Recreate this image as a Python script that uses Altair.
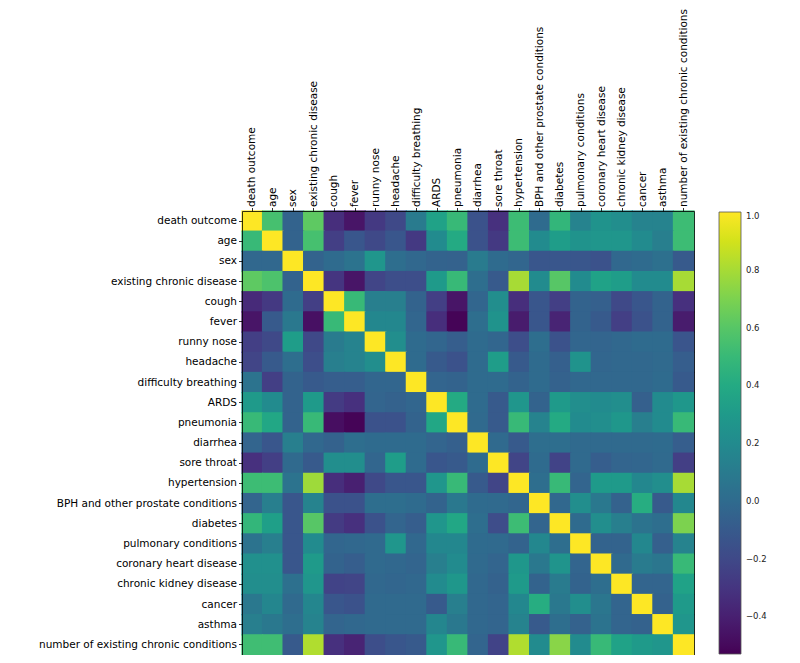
import altair as alt
import pandas as pd

labels = [
    "death outcome", "age", "sex", "existing chronic disease", "cough", "fever",
    "runny nose", "headache", "difficulty breathing", "ARDS", "pneumonia",
    "diarrhea", "sore throat", "hypertension", "BPH and other prostate conditions",
    "diabetes", "pulmonary conditions", "coronary heart disease",
    "chronic kidney disease", "cancer", "asthma",
    "number of existing chronic conditions",
]

r_death = [1.0, 0.55, -0.05, 0.62, -0.33, -0.45, -0.28, -0.2, 0.1, 0.35, 0.5, -0.15, -0.32, 0.52, 0.0, 0.48, 0.15, 0.25, 0.22, 0.15, 0.15, 0.52]
r_age = [0.5, 1.0, -0.05, 0.55, -0.25, -0.12, -0.2, -0.12, -0.28, 0.2, 0.4, -0.15, -0.28, 0.52, 0.2, 0.32, 0.25, 0.27, 0.27, 0.2, 0.12, 0.52]
r_sex = [-0.02, -0.02, 1.0, -0.05, 0.0, 0.05, 0.27, 0.02, -0.02, -0.05, -0.06, 0.1, 0.0, -0.03, -0.12, -0.12, -0.12, -0.15, -0.02, 0.0, 0.03, -0.1]
r_existing = [0.62, 0.57, -0.05, 1.0, -0.3, -0.45, -0.22, -0.17, -0.17, 0.3, 0.5, 0.02, -0.1, 0.8, 0.2, 0.6, 0.2, 0.35, 0.32, 0.2, 0.2, 0.8]
r_cough = [-0.35, -0.28, 0.0, -0.25, 1.0, 0.5, 0.12, 0.12, -0.05, -0.25, -0.45, -0.03, 0.22, -0.33, -0.12, -0.25, -0.05, -0.07, -0.2, -0.12, -0.05, -0.32]
r_fever = [-0.45, -0.1, 0.08, -0.47, 0.5, 1.0, 0.18, 0.18, -0.03, -0.33, -0.52, 0.02, 0.25, -0.42, -0.12, -0.38, -0.05, -0.1, -0.25, -0.15, -0.05, -0.42]
r_runny = [-0.25, -0.2, 0.32, -0.2, 0.1, 0.15, 1.0, 0.22, 0.0, -0.03, -0.08, 0.0, -0.03, -0.17, 0.02, -0.15, -0.03, -0.04, -0.02, 0.0, 0.0, -0.13]
r_headache = [-0.22, -0.1, 0.02, -0.17, 0.12, 0.15, 0.22, 1.0, 0.0, -0.1, -0.15, 0.0, 0.32, -0.1, 0.0, -0.07, 0.25, -0.03, -0.02, -0.02, -0.01, -0.08]
r_difficulty = [0.05, -0.25, -0.05, -0.1, -0.08, -0.08, -0.03, -0.03, 1.0, -0.04, -0.05, 0.0, 0.0, -0.05, 0.0, -0.06, -0.02, -0.02, -0.02, -0.02, 0.0, -0.1]
r_ards = [0.3, 0.2, -0.05, 0.3, -0.27, -0.32, -0.04, -0.06, -0.03, 1.0, 0.4, 0.0, -0.1, 0.27, -0.05, 0.3, 0.22, 0.2, 0.22, -0.07, 0.2, 0.28]
r_pneumonia = [0.5, 0.38, -0.05, 0.5, -0.48, -0.52, -0.15, -0.15, -0.05, 0.38, 1.0, -0.01, -0.1, 0.5, 0.15, 0.4, 0.2, 0.22, 0.28, 0.12, 0.2, 0.5]
r_diarrhea = [-0.04, -0.12, 0.12, -0.02, -0.06, 0.02, 0.0, 0.0, 0.0, -0.04, -0.07, 1.0, -0.01, -0.1, 0.02, 0.02, -0.01, -0.01, -0.01, -0.01, 0.0, -0.08]
r_sore = [-0.32, -0.25, -0.01, -0.1, 0.22, 0.22, -0.03, 0.32, 0.0, -0.12, -0.1, 0.0, 1.0, -0.22, 0.0, -0.23, -0.01, -0.08, -0.04, -0.03, -0.01, -0.25]
r_hypertension = [0.52, 0.52, 0.05, 0.78, -0.33, -0.4, -0.2, -0.12, -0.12, 0.27, 0.5, -0.1, -0.22, 1.0, 0.02, 0.5, -0.04, 0.3, 0.3, 0.18, 0.22, 0.8]
r_bph = [-0.04, 0.12, -0.12, 0.15, -0.15, -0.15, 0.02, 0.02, 0.0, -0.05, 0.08, 0.0, -0.01, -0.03, 1.0, -0.02, 0.22, 0.08, -0.06, 0.42, -0.1, 0.18]
r_diabetes = [0.48, 0.33, -0.12, 0.6, -0.27, -0.32, -0.15, -0.04, -0.08, 0.27, 0.38, 0.02, -0.18, 0.52, -0.04, 1.0, 0.0, 0.22, 0.12, 0.05, 0.02, 0.7]
r_pulmonary = [0.05, 0.12, -0.12, 0.2, -0.03, -0.02, -0.01, 0.27, -0.02, 0.18, 0.18, 0.0, -0.01, -0.05, 0.18, 0.02, 1.0, -0.05, -0.05, 0.18, -0.07, 0.15]
r_coronary = [0.23, 0.23, -0.12, 0.3, -0.05, -0.08, -0.01, -0.02, -0.04, 0.12, 0.2, -0.01, -0.04, 0.28, 0.08, 0.26, -0.04, 1.0, -0.01, 0.1, 0.07, 0.5]
r_ckd = [0.22, 0.22, 0.03, 0.27, -0.23, -0.22, -0.02, -0.03, -0.02, 0.2, 0.28, -0.02, -0.06, 0.3, -0.05, 0.1, -0.05, 0.02, 1.0, -0.04, -0.04, 0.35]
r_cancer = [0.08, 0.17, -0.01, 0.17, -0.12, -0.15, -0.01, -0.01, -0.01, -0.1, 0.12, -0.02, -0.04, 0.18, 0.42, 0.08, 0.22, 0.07, -0.04, 1.0, -0.06, 0.3]
r_asthma = [0.12, 0.08, 0.02, 0.15, -0.04, -0.02, -0.01, -0.01, -0.01, 0.17, 0.08, -0.02, -0.04, 0.15, -0.1, 0.02, -0.06, 0.05, -0.04, -0.06, 1.0, 0.27]
r_number = [0.53, 0.53, -0.1, 0.82, -0.32, -0.38, -0.17, -0.12, -0.1, 0.27, 0.5, -0.04, -0.23, 0.82, 0.2, 0.73, 0.2, 0.5, 0.35, 0.3, 0.27, 1.0]

rows = [r_death, r_age, r_sex, r_existing, r_cough, r_fever, r_runny, r_headache,
        r_difficulty, r_ards, r_pneumonia, r_diarrhea, r_sore, r_hypertension, r_bph,
        r_diabetes, r_pulmonary, r_coronary, r_ckd, r_cancer, r_asthma, r_number]

colorbar_ticks = [-0.4, -0.2, 0.0, 0.2, 0.4, 0.6, 0.8, 1.0]

records = []
for i, rname in enumerate(labels):
    for j, cname in enumerate(labels):
        records.append({"row": rname, "col": cname, "value": rows[i][j]})
df = pd.DataFrame(records)

W, H = 452, 444
FONT = "DejaVu Sans"

axis_common = dict(
    title=None, labelFont=FONT, labelFontSize=10.5, labelColor="black",
    tickColor="black", tickSize=3.5, tickWidth=0.8,
    domainColor="black", domainWidth=0.8, labelLimit=400, zindex=1,
)

band = alt.Scale(paddingInner=0, paddingOuter=0)

heat = alt.Chart(df).mark_rect(
    width=alt.RelativeBandSize(1.06), height=alt.RelativeBandSize(1.06)
).encode(
    x=alt.X("col:N", sort=labels, scale=band,
            axis=alt.Axis(orient="top", labelAngle=-90, labelAlign="left",
                          labelBaseline="middle", labelPadding=1, **axis_common)),
    y=alt.Y("row:N", sort=labels, scale=band,
            axis=alt.Axis(orient="left", labelPadding=2, **axis_common)),
    color=alt.Color(
        "value:Q",
        scale=alt.Scale(scheme="viridis", domain=[-0.53, 1.0], nice=False),
        legend=alt.Legend(
            title=None, orient="none", legendX=477, legendY=1,
            direction="vertical", gradientLength=H - 2, gradientThickness=22,
            values=colorbar_ticks, format=".1f",
            labelExpr="replace(datum.label, '-', '\u2212')",
            labelFont=FONT, labelFontSize=8.5, labelColor="#222", labelOffset=5,
            gradientStrokeColor="#555", gradientStrokeWidth=0.8,
        ),
    ),
)

frame = alt.Chart(df).mark_rect(opacity=0).encode(
    x=alt.X("col:N", sort=labels, scale=band,
            axis=alt.Axis(orient="bottom", labels=False, ticks=False, title=None,
                          domainColor="black", domainWidth=0.8, zindex=1)),
    y=alt.Y("row:N", sort=labels, scale=band,
            axis=alt.Axis(orient="right", labels=False, ticks=False, title=None,
                          domainColor="black", domainWidth=0.8, zindex=1)),
)

chart = alt.layer(heat, frame).resolve_axis(
    x="independent", y="independent"
).properties(
    width=W, height=H,
    padding={"left": 234, "top": 203, "right": 98, "bottom": 0},
    autosize=alt.AutoSizeParams(type="none"),
    background="white",
).configure_view(strokeWidth=0)

chart.save("out.html", embed_options={"renderer": "svg", "actions": False})
